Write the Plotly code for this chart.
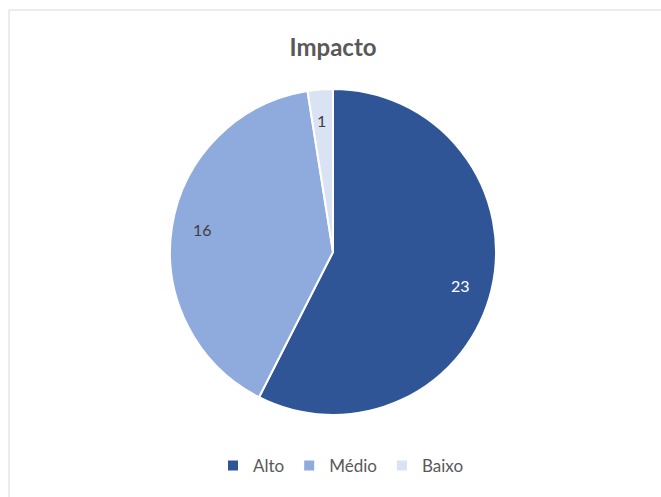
import math
import plotly.graph_objects as go

# Chart data
categories = ["Alto", "Médio", "Baixo"]
values = [23, 16, 1]
colors = ["#2F5597", "#8FAADC", "#DAE3F3"]
label_colors = ["#FFFFFF", "#404040", "#404040"]

W, H = 661, 497
# pie placement in pixels (center and radius)
cx, cy, r = 333, 252, 163

fig = go.Figure(
    go.Pie(
        labels=categories,
        values=values,
        sort=False,
        direction="clockwise",
        rotation=0,
        marker=dict(colors=colors, line=dict(color="#FFFFFF", width=2)),
        textinfo="none",
        hoverinfo="label+value",
        domain=dict(x=[(cx - r) / W, (cx + r) / W],
                    y=[1 - (cy + r) / H, 1 - (cy - r) / H]),
    )
)

# Data labels near the outer edge of each slice (inside end)
total = sum(values)
annotations = []
start = 0.0
for cat, v, col in zip(categories, values, label_colors):
    mid = (start + v / 2) / total * 2 * math.pi
    start += v
    rr = 0.88 * r
    px = cx + rr * math.sin(mid)
    py = cy - rr * math.cos(mid)
    annotations.append(dict(
        x=px / W, y=1 - py / H, xref="paper", yref="paper",
        text=str(v), showarrow=False,
        font=dict(family="Lato, Calibri, sans-serif", size=16, color=col),
    ))

fig.update_layout(
    width=W,
    height=H,
    margin=dict(l=0, r=0, t=0, b=0),
    paper_bgcolor="#FFFFFF",
    plot_bgcolor="#FFFFFF",
    font=dict(family="Lato, Calibri, sans-serif", color="#595959"),
    title=dict(
        text="<b>Impacto</b>",
        x=cx / W, xanchor="center",
        y=1 - 48 / H, yanchor="middle",
        font=dict(size=24, color="#595959"),
    ),
    showlegend=True,
    legend=dict(
        orientation="h",
        x=(cx + 8) / W, xanchor="center",
        y=1 - 466 / H, yanchor="middle",
        font=dict(size=17, color="#595959"),
        itemwidth=30,
        traceorder="normal",
    ),
    annotations=annotations,
    shapes=[dict(
        type="rect", xref="paper", yref="paper",
        x0=9 / W, x1=1.02, y0=-0.02, y1=1 - 10 / H,
        line=dict(color="#D9D9D9", width=1),
        fillcolor="rgba(0,0,0,0)", layer="below",
    )],
)

fig.write_html("out.html")
